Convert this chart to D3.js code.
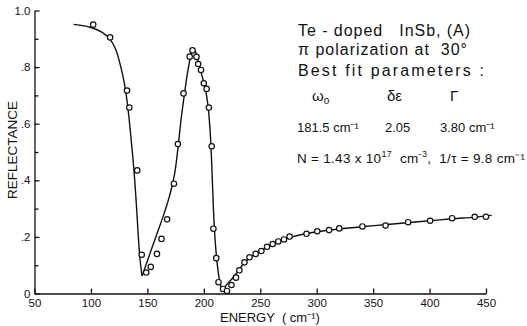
<!DOCTYPE html>
<html>
<head>
<meta charset="utf-8">
<script src="https://cdn.jsdelivr.net/npm/d3@7"></script>
<style>
  body { margin: 0; background: #fff; }
  text { font-family: "Liberation Sans", Arial, sans-serif; fill: #111; }
</style>
</head>
<body>
<div id="chart-container"></div>
<script>
// Measured points (energy in cm-1, reflectance)
const measEnergy = [102, 117, 132, 134, 141, 145, 149, 153, 158.5, 162.5, 167.5, 173.5, 177,
    182, 187.5, 190, 193.5, 195, 197.5, 200, 202.5, 204.5, 207, 208.5, 211, 213, 217, 220.5,
    224.5, 228.5, 231.5, 236, 240.5, 246, 251, 256, 261, 266, 271, 276, 291, 300.5, 311, 320,
    340.5, 361, 381, 400.5, 420, 440, 450];
const measRefl = [0.95, 0.905, 0.717, 0.657, 0.435, 0.137, 0.074, 0.094, 0.140, 0.193, 0.262, 0.388, 0.528,
    0.707, 0.837, 0.859, 0.836, 0.811, 0.790, 0.743, 0.723, 0.657, 0.520, 0.229, 0.125, 0.040, 0.016, 0.009,
    0.030, 0.056, 0.082, 0.110, 0.128, 0.140, 0.150, 0.165, 0.175, 0.184, 0.191, 0.201, 0.211, 0.220, 0.224, 0.230,
    0.237, 0.240, 0.252, 0.257, 0.266, 0.271, 0.271];

const fitEnergyA = [84.6, 100, 110, 117, 122, 126.5, 129.5, 132, 133.5, 135.5, 138, 140, 142, 143.5, 145.3];
const fitReflA = [0.951, 0.94, 0.923, 0.898, 0.862, 0.80, 0.745, 0.68, 0.63, 0.55, 0.44, 0.33, 0.20, 0.12, 0.062];
const fitEnergyB = [145.3, 150, 155, 160, 165, 170, 174, 177, 180, 183, 186, 188.5, 190.5, 192.5, 195, 198,
    201, 203.5, 205.5, 207, 208.5, 210, 212, 214, 216.2];
const fitReflB = [0.062, 0.115, 0.172, 0.228, 0.285, 0.35, 0.42, 0.51, 0.62, 0.71, 0.79, 0.84, 0.863, 0.856,
    0.822, 0.775, 0.73, 0.67, 0.58, 0.46, 0.30, 0.19, 0.10, 0.045, 0.01];
const fitEnergyC = [216.2, 220, 225, 230, 235, 240, 245, 250, 260, 270, 280, 290, 300, 320, 340, 360, 380,
    400, 420, 440, 455];
const fitReflC = [0.01, 0.03, 0.052, 0.077, 0.104, 0.124, 0.138, 0.150, 0.171, 0.189, 0.202, 0.211, 0.218,
    0.228, 0.236, 0.243, 0.25, 0.257, 0.264, 0.27, 0.276];

const xTicks = [50, 100, 150, 200, 250, 300, 350, 400, 450];
const yTicks = [0, 0.2, 0.4, 0.6, 0.8, 1.0];
const yTickLabels = ["0", ".2", ".4", ".6", ".8", "1.0"];
const yMinorTicks = [0.1, 0.3, 0.5, 0.7, 0.9];

const margin = { top: 10.5, right: 41, bottom: 32.5, left: 34.5 };
const width = 527 - margin.left - margin.right;
const height = 326 - margin.top - margin.bottom;

var root = d3.select("#chart-container")
    .append("svg")
    .attr("width", 527)
    .attr("height", 326);

var svg = root.append("g")
    .attr("transform", `translate(${margin.left}, ${margin.top})`);

var x = d3.scaleLinear().domain([50, 450]).range([0, width]);
var y = d3.scaleLinear().domain([0, 1]).range([height, 0]);

// Axes (ticks point inward)
var xAxis = svg.append("g")
    .attr("transform", `translate(0, ${height})`)
    .call(d3.axisBottom(x).tickValues(xTicks).tickSize(-5).tickPadding(5).tickSizeOuter(0));
xAxis.selectAll("text").attr("font-size", 11.5).attr("dy", "0.71em");

var yAxis = svg.append("g")
    .call(d3.axisLeft(y).tickValues(yTicks).tickSize(-5).tickPadding(4).tickSizeOuter(0)
        .tickFormat((d, i) => yTickLabels[i]));
yAxis.selectAll("text").attr("font-size", 11.5);

svg.append("g")
    .call(d3.axisLeft(y).tickValues(yMinorTicks).tickSize(-4).tickFormat("").tickSizeOuter(0))
    .select(".domain").remove();

svg.selectAll(".domain, .tick line").attr("stroke", "#111").attr("stroke-width", 1.3);

// Fit curve
var line = d3.line()
    .x(d => x(d[0]))
    .y(d => y(d[1]))
    .curve(d3.curveCatmullRom.alpha(0.5));

[[fitEnergyA, fitReflA], [fitEnergyB, fitReflB], [fitEnergyC, fitReflC]].forEach(function (seg) {
    svg.append("path")
        .datum(seg[0].map((e, i) => [e, seg[1][i]]))
        .attr("fill", "none")
        .attr("stroke", "#111")
        .attr("stroke-width", 1.4)
        .attr("d", line);
});

// Measured points
svg.selectAll(".pt")
    .data(measEnergy.map((e, i) => [e, measRefl[i]]))
    .enter().append("circle")
    .attr("class", "pt")
    .attr("cx", d => x(d[0]))
    .attr("cy", d => y(d[1]))
    .attr("r", 2.7)
    .attr("fill", "#fff")
    .attr("stroke", "#111")
    .attr("stroke-width", 1.2);

// Axis titles
root.append("text")
    .attr("x", 220)
    .attr("y", 322)
    .attr("font-size", 13)
    .attr("xml:space", "preserve")
    .text("ENERGY  ( cm\u207B\u00B9)");

root.append("text")
    .attr("transform", "translate(17, 150) rotate(-90)")
    .attr("text-anchor", "middle")
    .attr("font-size", 13.5)
    .text("REFLECTANCE");

// Annotation block
var note = root.append("g").attr("font-size", 16);
note.append("text").attr("x", 298).attr("y", 36).attr("xml:space", "preserve")
    .attr("textLength", 172).attr("lengthAdjust", "spacing").text("Te - doped   InSb, (A)");
note.append("text").attr("x", 298).attr("y", 55).attr("xml:space", "preserve")
    .attr("textLength", 169).attr("lengthAdjust", "spacing").text("\u03C0 polarization at  30\u00B0");
note.append("text").attr("x", 298).attr("y", 76).attr("xml:space", "preserve")
    .attr("textLength", 186).attr("lengthAdjust", "spacing").text("Best fit parameters :");

var w0 = note.append("text").attr("x", 312).attr("y", 101).attr("font-size", 15).text("\u03C9");
w0.append("tspan").attr("font-size", 10).attr("dy", 3).text("o");
note.append("text").attr("x", 387).attr("y", 101).attr("font-size", 15).text("\u03B4\u03B5");
note.append("text").attr("x", 450).attr("y", 101).attr("font-size", 15).text("\u0393");

var params = note.append("g").attr("font-size", 13);
params.append("text").attr("x", 297).attr("y", 132).text("181.5 cm\u207B\u00B9");
params.append("text").attr("x", 385).attr("y", 132).text("2.05");
params.append("text").attr("x", 440).attr("y", 132).text("3.80 cm\u207B\u00B9");

var nLine = note.append("text").attr("x", 297).attr("y", 163).attr("font-size", 13.5)
    .attr("xml:space", "preserve").attr("textLength", 228).attr("lengthAdjust", "spacing");
nLine.append("tspan").text("N = 1.43 x 10");
nLine.append("tspan").attr("font-size", 9).attr("dy", -6).text("17");
nLine.append("tspan").attr("dy", 6).text("  cm");
nLine.append("tspan").attr("font-size", 9).attr("dy", -6).text("-3");
nLine.append("tspan").attr("dy", 6).text(",  1/\u03C4 = 9.8 cm\u207B\u00B9");
</script>
</body>
</html>
